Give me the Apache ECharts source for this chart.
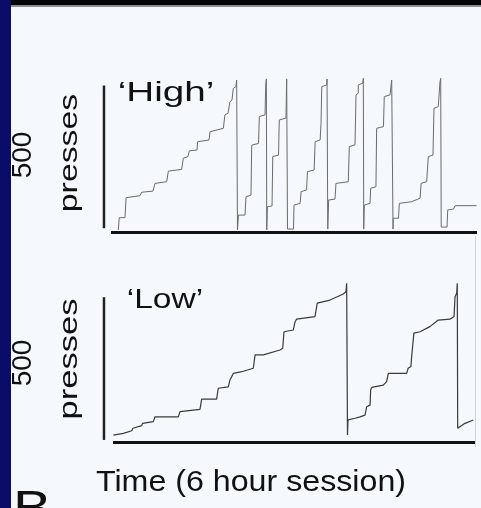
<!DOCTYPE html>
<html>
<head>
<meta charset="utf-8">
<script src="https://cdn.jsdelivr.net/npm/echarts@6/dist/echarts.min.js"></script>
<style>
  html, body { margin: 0; padding: 0; background: #f5f8fc; }
  #container { width: 481px; height: 508px; }
</style>
</head>
<body>
<div id="container"></div>
<script>
// cumulative records, time in minutes of the 6 h session, presses counted since last reset
var highTime = [7.2, 8.1, 13.8, 14.8, 28.5, 30.2, 41.3, 43.3, 54.8, 56.4, 69.5, 71.1, 75.7, 77, 84.6, 85.2, 96.4, 97.4, 110.5, 112.1, 115.1, 117, 119, 120.3, 122.9, 123.6, 124.2,
  124.4, 125.4, 131.8, 132.8, 137.7, 138.4, 145.1, 145.9, 151.5, 152.2, 152.8, 153,
  153.2, 153.8, 158.4, 159.1, 164.8, 165.5, 172.1, 172.8, 173.4,
  173.6, 179.5, 180, 186, 187, 192.4, 193.2, 199.8, 200.8, 205.7, 206.6, 207.3, 212.2, 212.5, 213,
  213.2, 214.1, 220.3, 221.3, 233.4, 234.4, 240, 241, 243.2, 243.2, 247.6, 248.2, 248.4,
  248.6, 249.2, 254.8, 255.4, 260.6, 261.3, 268, 268.8, 274.4, 276.1, 276.9, 277.2,
  277.4, 277.7, 282.8, 283.6, 295.8, 304, 305, 310.5, 312.1, 316.7, 317.7, 321.9, 323.6, 324.3, 324.6,
  324.8, 330.5, 331.2, 336.9, 338.4, 359.5];
var highPresses = [9, 52, 52, 122, 129, 141, 145, 172, 178, 215, 221, 260, 266, 286, 289, 318, 324, 353, 365, 412, 418, 458, 464, 505, 511, 534, 534,
  9, 61, 61, 125, 131, 306, 312, 406, 412, 517, 538, 538,
  9, 90, 93, 266, 271, 394, 401, 538, 538,
  12, 12, 96, 102, 143, 149, 213, 219, 318, 324, 383, 511, 517, 538, 538,
  12, 114, 117, 172, 178, 301, 307, 482, 488, 517, 523, 540, 540,
  12, 96, 102, 155, 160, 365, 371, 476, 482, 534, 540, 540,
  12, 50, 50, 102, 108, 120, 172, 178, 266, 271, 435, 441, 528, 540, 540,
  19, 19, 79, 82, 94, 94];

var lowTime = [2.3, 12.1, 12.8, 20.4, 21.6, 30.2, 31, 41.6, 43.3, 66.2, 67.9, 87.5, 89.2, 103.9, 105.5, 115.4, 117, 120.3, 128.6, 140, 141.7, 149.9, 166.2, 168.9, 170.2, 179.3, 181, 182.6, 200.6, 202.9, 215.4, 228.5, 231.1, 231.8, 232.4,
  232.6, 233.1, 240, 244.9, 249.8, 251.5, 254.8, 255.4, 256.4, 267.8, 271.1, 272.8, 290.8, 292.3, 295, 295.6, 297, 297.9, 303.9, 313.7, 321.9, 333.4, 337.4, 338.4, 340, 340.6, 340.8,
  341, 341.6, 348.2, 356.4];
var lowPresses = [26, 32, 38, 41, 50, 59, 67, 73, 90, 90, 108, 116, 152, 152, 190, 195, 219, 242, 248, 260, 307, 307, 324, 330, 388, 394, 423, 432, 441, 488, 499, 520, 528, 558, 558,
  26, 79, 85, 90, 96, 125, 131, 184, 193, 201, 213, 242, 242, 260, 266, 295, 301, 383, 388, 406, 429, 432, 441, 511, 523, 558, 558,
  50, 55, 67, 79];

// time axis baselines of the two panels
var highBaseTime = [0, 360];
var lowBaseTime = [2, 358];
var baseline = [0, 0];

// 500-press scale bars drawn just left of each record
var scaleBarTime = [-6.9, -6.9];
var scaleBarHigh = [15, 515];
var scaleBarLow = [9, 509];

var panelTitles = ['\u2018High\u2019', '\u2018Low\u2019'];
var scaleLabel = ['500', 'presses'];
var timeLabel = 'Time (6 hour session)';

function pairs(xs, ys) {
  return xs.map(function (x, i) { return [x, ys[i]]; });
}

var dom = document.getElementById('container');
var myChart = echarts.init(dom, null, { renderer: 'canvas' });

var font = '"Liberation Sans", Arial, sans-serif';
var ink = '#111';

function label(text, x, y, size, sx, rot) {
  return {
    type: 'text', x: x, y: y, rotation: rot || 0, scaleX: sx, z: 5,
    style: { text: text, fontSize: size, fontFamily: font, fill: ink, align: 'center', verticalAlign: 'middle' }
  };
}

function trace(xi, data, color, width) {
  return {
    type: 'line', xAxisIndex: xi, yAxisIndex: xi, data: data,
    showSymbol: false, clip: false, silent: true,
    lineStyle: { color: color, width: width }
  };
}

var hidden = { show: false };

var option = {
  backgroundColor: '#f5f8fc',
  animation: false,
  grid: [
    { left: 101.85, width: 375.15, top: 75.5, height: 157 },
    { left: 101.85, width: 375.15, top: 285.5, height: 157 }
  ],
  xAxis: [
    { gridIndex: 0, type: 'value', min: -9, max: 360, axisLine: hidden, axisTick: hidden, axisLabel: hidden, splitLine: hidden },
    { gridIndex: 1, type: 'value', min: -9, max: 360, axisLine: hidden, axisTick: hidden, axisLabel: hidden, splitLine: hidden }
  ],
  yAxis: [
    { gridIndex: 0, type: 'value', min: 0, max: 550, show: false },
    { gridIndex: 1, type: 'value', min: 0, max: 550, show: false }
  ],
  graphic: [
    { type: 'rect', shape: { x: 0, y: 0, width: 11, height: 508 }, style: { fill: '#0a0c68' } },
    { type: 'rect', shape: { x: 11, y: 0, width: 470, height: 5 }, style: { fill: '#050505' } },
    { type: 'rect', shape: { x: 11, y: 5, width: 470, height: 2 }, style: { fill: '#8a8d92' } },
    { type: 'line', shape: { x1: 475.5, y1: 236, x2: 475.5, y2: 447 }, style: { stroke: '#cfd3d8', lineWidth: 1 } },
    label(panelTitles[0], 166, 93, 28, 1.38),
    label(panelTitles[1], 165, 300, 28, 1.2),
    label(scaleLabel[0], 23, 155, 28, 1, Math.PI / 2),
    label(scaleLabel[1], 70, 153, 26, 1.3, Math.PI / 2),
    label(scaleLabel[0], 23, 363, 28, 1, Math.PI / 2),
    label(scaleLabel[1], 70, 359, 26, 1.33, Math.PI / 2),
    label(timeLabel, 251, 483, 29, 1.11),
    { type: 'text', x: 13, y: 487, z: 5, scaleX: 1.2, style: { text: 'B', fontSize: 48, fontFamily: font, fill: ink } }
  ],
  series: [
    trace(0, pairs(highTime, highPresses), '#6b6b6b', 1),
    trace(1, pairs(lowTime, lowPresses), '#3a3a3a', 1.2),
    trace(0, pairs(highBaseTime, baseline), '#111', 3),
    trace(1, pairs(lowBaseTime, baseline), '#111', 3),
    trace(0, pairs(scaleBarTime, scaleBarHigh), '#222', 2.5),
    trace(1, pairs(scaleBarTime, scaleBarLow), '#222', 2.5)
  ]
};

myChart.setOption(option);
window.addEventListener('resize', myChart.resize);
</script>
</body>
</html>
